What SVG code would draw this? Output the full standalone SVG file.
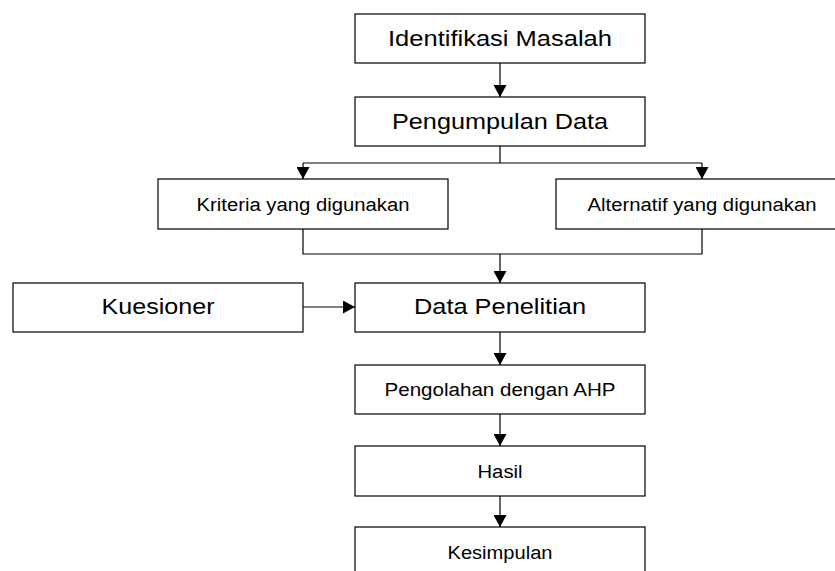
<svg xmlns="http://www.w3.org/2000/svg" width="835" height="571" viewBox="0 0 835 571">
<style>
.box{fill:#fff;stroke:#000;stroke-width:1.2}
.t{font-family:"Liberation Sans",Arial,sans-serif;fill:#000;text-anchor:middle}
.big{font-size:22px}
.sm{font-size:18px}
.c{fill:none;stroke:#000;stroke-width:1.2}
</style>
<defs>
<marker id="ah" markerUnits="userSpaceOnUse" markerWidth="13" markerHeight="13" refX="12" refY="6.5" orient="auto" viewBox="0 0 13 13">
<path d="M0,0 L12,6.5 L0,13 z" fill="#000"/>
</marker>
</defs>
<rect width="835" height="571" fill="#fff"/>
<g id="connectors">
<path class="c" d="M500,63 V97" marker-end="url(#ah)"/>
<path class="c" d="M500,146 V163 M303,163 H702"/>
<path class="c" d="M303,163 V179" marker-end="url(#ah)"/>
<path class="c" d="M702,163 V179" marker-end="url(#ah)"/>
<path class="c" d="M303,229 V254 H702 V229"/>
<path class="c" d="M500,254 V283" marker-end="url(#ah)"/>
<path class="c" d="M303,307 H355" marker-end="url(#ah)"/>
<path class="c" d="M500,332 V365" marker-end="url(#ah)"/>
<path class="c" d="M500,414 V446" marker-end="url(#ah)"/>
<path class="c" d="M500,496 V527" marker-end="url(#ah)"/>
</g>
<g id="identifikasi">
<rect class="box" x="355" y="14" width="290" height="49"/>
<text class="t big" x="500" y="46" textLength="224" lengthAdjust="spacingAndGlyphs">Identifikasi Masalah</text>
</g>
<g id="pengumpulan">
<rect class="box" x="355" y="97" width="290" height="49"/>
<text class="t big" x="500" y="129" textLength="216" lengthAdjust="spacingAndGlyphs">Pengumpulan Data</text>
</g>
<g id="kriteria">
<rect class="box" x="158" y="179" width="290" height="50"/>
<text class="t sm" x="303" y="211" textLength="213" lengthAdjust="spacingAndGlyphs">Kriteria yang digunakan</text>
</g>
<g id="alternatif">
<rect class="box" x="556" y="179" width="292" height="50"/>
<text class="t sm" x="702" y="211" textLength="229" lengthAdjust="spacingAndGlyphs">Alternatif yang digunakan</text>
</g>
<g id="kuesioner">
<rect class="box" x="13" y="283" width="290" height="49"/>
<text class="t big" x="158" y="314" textLength="113" lengthAdjust="spacingAndGlyphs">Kuesioner</text>
</g>
<g id="data-penelitian">
<rect class="box" x="355" y="283" width="290" height="49"/>
<text class="t big" x="500" y="314" textLength="172" lengthAdjust="spacingAndGlyphs">Data Penelitian</text>
</g>
<g id="pengolahan">
<rect class="box" x="355" y="365" width="290" height="49"/>
<text class="t sm" x="500" y="396" textLength="231" lengthAdjust="spacingAndGlyphs">Pengolahan dengan AHP</text>
</g>
<g id="hasil">
<rect class="box" x="355" y="446" width="290" height="50"/>
<text class="t sm" x="500" y="478" textLength="45" lengthAdjust="spacingAndGlyphs">Hasil</text>
</g>
<g id="kesimpulan">
<rect class="box" x="355" y="527" width="290" height="50"/>
<text class="t sm" x="500" y="559" textLength="105" lengthAdjust="spacingAndGlyphs">Kesimpulan</text>
</g>
</svg>
